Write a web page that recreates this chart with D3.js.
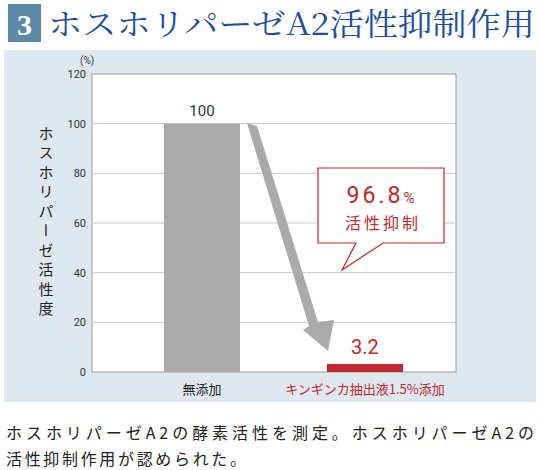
<!DOCTYPE html><html><head><meta charset="utf-8"><script src="https://cdn.jsdelivr.net/npm/d3@7"></script>
<style>body{margin:0;background:#fff}</style></head><body><svg id="c" width="540" height="470"></svg>
<script>
const categories=["無添加","キンギンカ抽出液1.5%添加"];
const values=[100,3.2];
const yTicks=[0,20,40,60,80,100,120];
const svg=d3.select("#c");
const jp="'Noto Sans CJK JP',sans-serif";
const red="#c0282d";
svg.append("rect").attr("x",8).attr("y",4).attr("width",33).attr("height",38).attr("fill","#5d89a8");
svg.append("text").attr("x",24.5).attr("y",35).attr("text-anchor","middle").attr("fill","#fff").attr("font-size",30).attr("font-family","'Liberation Serif',serif").attr("font-weight","bold").text("3");
svg.append("text").attr("x",48).attr("y",35).attr("fill","#1f4f9a").attr("font-size",31).attr("font-family","'Noto Serif CJK JP','Noto Sans CJK JP',serif").attr("textLength",487).attr("lengthAdjust","spacingAndGlyphs").text("ホスホリパーゼA2活性抑制作用");
svg.append("rect").attr("x",4).attr("y",50).attr("width",532).attr("height",352).attr("fill","#dfe7ef");
const y=d3.scaleLinear().domain([0,120]).range([372,74]);
const x=d3.scaleBand().domain(categories).range([92,474]).paddingInner(0.7).paddingOuter(0.3);
svg.append("rect").attr("x",92).attr("y",74).attr("width",364).attr("height",298).attr("fill","#fff").attr("stroke","#999");
svg.append("g").selectAll("line").data(yTicks.slice(1,-1)).join("line").attr("x1",92).attr("x2",456).attr("y1",d=>y(d)).attr("y2",d=>y(d)).attr("stroke","#c8c8c8");
const ax=svg.append("g").attr("transform","translate(92,0)").call(d3.axisLeft(y).tickValues(yTicks).tickSize(0).tickPadding(6));
ax.select(".domain").remove();
ax.selectAll("text").attr("font-size",11).attr("fill","#333").attr("font-family","Roboto,sans-serif");
svg.append("text").attr("x",80).attr("y",64).attr("font-size",10).attr("fill","#333").attr("font-family","Roboto,sans-serif").text("(%)");
const bx=d=>d==categories[0]?164:327;
svg.append("g").selectAll("rect").data(categories).join("rect").attr("x",bx).attr("width",76).attr("y",(d,i)=>y(values[i])).attr("height",(d,i)=>372-y(values[i])).attr("fill",(d,i)=>i?red:"#aaa");
svg.append("g").selectAll("text").data(categories).join("text").attr("x",d=>bx(d)+38).attr("y",(d,i)=>y(values[i])-(i?10:8)).attr("text-anchor","middle").attr("font-size",(d,i)=>i?20:15).attr("fill",(d,i)=>i?red:"#333").attr("font-family","Roboto,sans-serif").text((d,i)=>values[i]);
svg.append("g").selectAll("text.c").data(categories).join("text").attr("x",d=>bx(d)+38).attr("y",394).attr("text-anchor","middle").attr("font-size",13).attr("fill",(d,i)=>i?red:"#222").attr("font-family",jp).text(d=>d);
svg.append("path").attr("d","M247,123 L257,126 L318,322 L334,320 L328,351 L303,330 L309,326 Z").attr("fill","#aaa");
svg.append("path").attr("d","M318,168 H444 V243 H383 L342,270 L356,243 H318 Z").attr("fill","#fff").attr("stroke",red).attr("stroke-width",1.2);
svg.append("text").attr("x",382).attr("y",203).attr("text-anchor","middle").attr("fill",red).attr("font-size",23).attr("letter-spacing",3).attr("font-family","Roboto,sans-serif").html('96.8<tspan font-size="15">%</tspan>');
svg.append("text").attr("x",383).attr("y",229).attr("text-anchor","middle").attr("fill",red).attr("font-size",16).attr("letter-spacing",3).attr("font-family",jp).text("活性抑制");
svg.append("g").selectAll("text").data("ホスホリパーゼ活性度".split("")).join("text").attr("x",46).attr("y",(d,i)=>133+i*19.5).attr("text-anchor","middle").attr("font-size",15).attr("fill","#222").attr("font-family",jp).attr("writing-mode","vertical-rl").text(d=>d);
svg.append("text").attr("x",6).attr("y",439).attr("font-size",16).attr("fill","#222").attr("font-family",jp).attr("textLength",528).text("ホスホリパーゼA2の酵素活性を測定。ホスホリパーゼA2の");
svg.append("text").attr("x",6).attr("y",465).attr("font-size",16).attr("fill","#222").attr("font-family",jp).attr("textLength",240).text("活性抑制作用が認められた。");
</script></body></html>
